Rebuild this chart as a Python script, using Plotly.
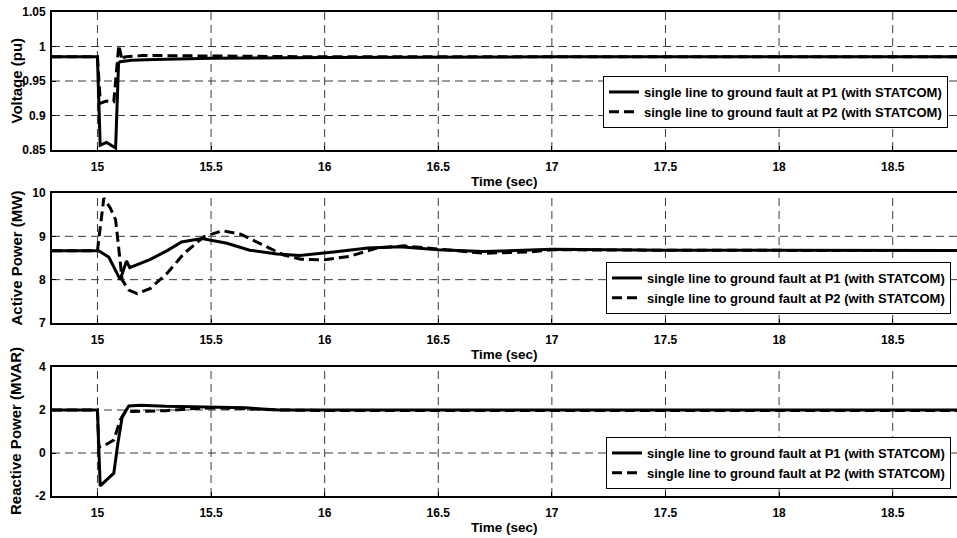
import plotly.graph_objects as go

# ---------------- data ----------------
x_ticks = [15, 15.5, 16, 16.5, 17, 17.5, 18, 18.5]
x_tick_labels = ["15", "15.5", "16", "16.5", "17", "17.5", "18", "18.5"]

# Voltage (pu)
t_v_p1 = [14.8, 15.0, 15.012, 15.04, 15.08, 15.093, 15.1, 15.15, 15.25, 15.5, 16.0, 16.5, 17.0, 18.8]
v_p1 = [0.985, 0.985, 0.857, 0.861, 0.853, 0.976, 0.978, 0.980, 0.981, 0.983, 0.984, 0.985, 0.985, 0.985]
t_v_p2 = [14.8, 15.0, 15.013, 15.04, 15.072, 15.087, 15.094, 15.109, 15.12, 15.2, 15.5, 16.0, 18.8]
v_p2 = [0.985, 0.985, 0.918, 0.921, 0.920, 0.971, 1.002, 0.980, 0.985, 0.987, 0.986, 0.985, 0.985]
v_ticks = [0.85, 0.9, 0.95, 1, 1.05]
v_tick_labels = ["0.85", "0.9", "0.95", "1", "1.05"]

# Active power (MW)
t_p_p1 = [14.8, 15.005, 15.05, 15.1, 15.128, 15.142, 15.233, 15.307, 15.37, 15.46, 15.57, 15.67,
          15.79, 15.89, 16.04, 16.19, 16.33, 16.5, 16.7, 17.0, 17.5, 18.0, 18.8]
p_p1 = [8.67, 8.67, 8.52, 8.0, 8.43, 8.28, 8.47, 8.67, 8.87, 8.95, 8.84, 8.68,
        8.59, 8.56, 8.64, 8.73, 8.76, 8.69, 8.65, 8.70, 8.68, 8.68, 8.67]
t_p_p2 = [14.8, 15.0, 15.028, 15.057, 15.08, 15.109, 15.138, 15.175, 15.233, 15.307, 15.38, 15.468,
          15.55, 15.63, 15.72, 15.82, 15.894, 16.0, 16.11, 16.23, 16.35, 16.5, 16.7, 16.9, 17.0, 17.5, 18.8]
p_p2 = [8.67, 8.67, 9.88, 9.65, 9.38, 7.99, 7.76, 7.68, 7.8, 8.15, 8.6, 8.99,
        9.13, 9.05, 8.82, 8.57, 8.47, 8.46, 8.54, 8.73, 8.78, 8.70, 8.61, 8.64, 8.69, 8.68, 8.67]
p_ticks = [7, 8, 9, 10]
p_tick_labels = ["7", "8", "9", "10"]

# Reactive power (MVAR)
t_q_p1 = [14.8, 15.0, 15.012, 15.072, 15.09, 15.109, 15.138, 15.19, 15.3, 15.5, 15.65, 15.8, 16.0, 18.8]
q_p1 = [2.0, 2.0, -1.53, -0.94, 0.45, 1.69, 2.19, 2.22, 2.17, 2.15, 2.1, 2.0, 2.0, 2.0]
t_q_p2 = [14.8, 15.0, 15.006, 15.035, 15.072, 15.1, 15.123, 15.2, 15.3, 15.4, 15.5, 15.6, 15.8, 16.0, 18.8]
q_p2 = [2.0, 2.0, 0.27, 0.37, 0.6, 1.53, 1.92, 1.93, 1.97, 2.05, 2.1, 2.08, 2.0, 1.98, 1.98]
q_ticks = [-2, 0, 2, 4]
q_tick_labels = ["-2", "0", "2", "4"]

name_p1 = "single line to ground fault at P1 (with STATCOM)"
name_p2 = "single line to ground fault at P2 (with STATCOM)"
x_title = "Time (sec)"
y_titles = ["Voltage (pu)", "Active Power (MW)", "Reactive Power (MVAR)"]

# ---------------- figure ----------------
FONT = "Liberation Sans, Arial, sans-serif"
W, H = 957, 538
ML = 52
X_RANGE = [14.8, 18.783]

fig = go.Figure()

panels = [
    (t_v_p1, v_p1, t_v_p2, v_p2, "", "legend"),
    (t_p_p1, p_p1, t_p_p2, p_p2, "2", "legend2"),
    (t_q_p1, q_p1, t_q_p2, q_p2, "3", "legend3"),
]
for (ta, ya, tb, yb, k, lg) in panels:
    fig.add_trace(go.Scatter(x=ta, y=ya, mode="lines", name=name_p1,
                             line=dict(color="black", width=3), xaxis="x" + k, yaxis="y" + k,
                             legend=lg))
    fig.add_trace(go.Scatter(x=tb, y=yb, mode="lines", name=name_p2,
                             line=dict(color="black", width=3, dash="10px,5px"),
                             xaxis="x" + k, yaxis="y" + k, legend=lg))

# pixel rows of each panel (top, bottom)
rows = [(12, 150), (193, 323), (367, 496)]
yranges = [[0.85, 1.05], [7, 10], [-2, 4]]
yticks = [(v_ticks, v_tick_labels), (p_ticks, p_tick_labels), (q_ticks, q_tick_labels)]

layout = dict(
    width=W, height=H,
    margin=dict(l=ML, r=0, t=0, b=0, pad=0),
    paper_bgcolor="white", plot_bgcolor="white",
    font=dict(family=FONT, color="black", size=12),
    annotations=[], shapes=[],
)

GRID_COLOR = "#3a3a3a"
GRID_DASH = "8px,5px"
for i, ((top, bot), yr, (tv, tl)) in enumerate(zip(rows, yranges, yticks)):
    k = "" if i == 0 else str(i + 1)
    dom = [1 - bot / H, 1 - top / H]
    layout["xaxis" + k] = dict(
        range=X_RANGE, domain=[0, 1], anchor="y" + k,
        tickvals=x_ticks, ticktext=x_tick_labels,
        tickfont=dict(family=FONT, size=12, weight="bold"),
        ticks="inside", ticklen=4, tickcolor="black",
        showline=True, linecolor="black", linewidth=2, mirror=True,
        showgrid=False, zeroline=False, automargin=False, ticklabelstandoff=5,
    )
    layout["yaxis" + k] = dict(
        range=yr, domain=dom, anchor="x" + k,
        tickvals=tv, ticktext=tl,
        tickfont=dict(family=FONT, size=12, weight="bold"),
        ticks="inside", ticklen=4, tickcolor="black",
        showline=True, linecolor="black", linewidth=2, mirror=False,
        showgrid=False, zeroline=False, automargin=False, ticklabelstandoff=2,
    )
    # dashed grid lines at the tick positions
    for xv in x_ticks:
        layout["shapes"].append(dict(
            type="line", xref="x" + k, yref="y" + k + " domain", x0=xv, x1=xv, y0=0, y1=1,
            line=dict(color=GRID_COLOR, width=1, dash=GRID_DASH), layer="below"))
    for yv in tv:
        if yr[0] < yv < yr[1]:
            layout["shapes"].append(dict(
                type="line", xref="x" + k + " domain", yref="y" + k, x0=0, x1=1, y0=yv, y1=yv,
                line=dict(color=GRID_COLOR, width=1, dash=GRID_DASH), layer="below"))
    layout["annotations"].append(dict(
        text=x_title, xref="x" + k + " domain", yref="y" + k + " domain", x=0.5, y=0,
        yanchor="middle", xanchor="center", yshift=-31, showarrow=False,
        font=dict(family=FONT, size=13.5, weight="bold"),
    ))
    layout["annotations"].append(dict(
        text=y_titles[i], xref="paper", yref="y" + k + " domain", x=0, y=0.5,
        xanchor="center", yanchor="middle", xshift=-(ML - 15.5), textangle=-90,
        showarrow=False, font=dict(family=FONT, size=15, weight="bold"),
    ))

legend_pos = [(603, 76), (606, 262), (606, 437)]
for i, (lx, ly) in enumerate(legend_pos):
    key = "legend" if i == 0 else "legend" + str(i + 1)
    layout[key] = dict(
        x=(lx - ML) / (W - ML), y=1 - ly / H, xanchor="left", yanchor="top",
        bgcolor="white", bordercolor="black", borderwidth=1,
        font=dict(family=FONT, size=13, weight="bold", color="black"),
        tracegroupgap=0, itemwidth=30,
    )

fig.update_layout(**layout)
fig.write_html("out.html")
